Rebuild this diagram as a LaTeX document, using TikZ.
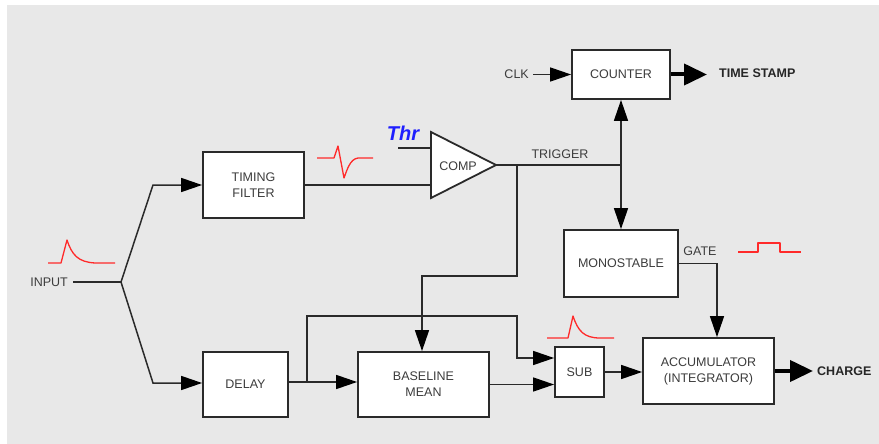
\documentclass[tikz,border=0pt]{standalone}
\usepackage{fontspec}
\setmainfont{Liberation Sans}
\usetikzlibrary{arrows.meta}
\definecolor{bg}{HTML}{E8E8E8}
\definecolor{ln}{HTML}{2A2A2A}
\definecolor{tx}{HTML}{3C3C3C}
\definecolor{pulse}{HTML}{FF2A2A}
\definecolor{thrblue}{HTML}{1F1FFF}
\begin{document}
\begin{tikzpicture}[x=1pt,y=-1pt,
  box/.style={draw=ln, line width=1.8pt, fill=white, inner sep=0pt, align=center, text=tx, font=\fontsize{12.5}{16}\selectfont},
  lbl/.style={text=tx, inner sep=0pt, font=\fontsize{12.5}{15}\selectfont},
  boldlbl/.style={text=black!85, inner sep=0pt, font=\fontsize{12.5}{15}\selectfont\bfseries},
  wire/.style={draw=ln, line width=1.5pt},
  arr/.style={wire, -{Triangle[length=21pt,width=14pt,color=black]}},
  fat/.style={draw=black, line width=4pt, -{Triangle[length=23pt,width=21pt]}},
  sig/.style={draw=pulse, line width=1.3pt, line join=round}]
\useasboundingbox (0,0) rectangle (879,444);
\fill[bg] (7,5) rectangle (879,444);

% boxes
\node[box, minimum width=101pt, minimum height=66pt] (tf) at (253.5,185) {TIMING\\FILTER};
\node[box, minimum width=85pt, minimum height=65pt] (delay) at (245.5,384.5) {DELAY};
\node[box, minimum width=131pt, minimum height=65pt] (bm) at (423.5,384.5) {BASELINE\\MEAN};
\node[box, minimum width=49pt, minimum height=50pt] (sub) at (579.5,372) {SUB};
\node[box, minimum width=131pt, minimum height=66pt] (acc) at (708.5,371) {ACCUMULATOR\\(INTEGRATOR)};
\node[box, minimum width=114pt, minimum height=67pt] (mono) at (621,263.5) {MONOSTABLE};
\node[box, minimum width=98pt, minimum height=49pt] (counter) at (621,74.5) {COUNTER};

% comparator
\draw[draw=ln, line width=1.8pt, fill=white] (431,132) -- (496,165) -- (431,198) -- cycle;
\node[lbl] (comp) at (458,166) {COMP};
\coordinate (c1) at (431,148);
\coordinate (c2) at (431,185);
\coordinate (cout) at (496,165);

% labels
\node[lbl, anchor=east] (input) at (68,282) {INPUT};
\node[lbl, anchor=east] (clk) at (529,74.5) {CLK};
\node[boldlbl, anchor=west] (ts) at (719,73) {TIME STAMP};
\node[lbl] (trig) at (560,154) {TRIGGER};
\node[lbl] (gate) at (700,251) {GATE};
\node[boldlbl, anchor=west] (charge) at (817,371) {CHARGE};
\node[inner sep=0pt, text=thrblue, font=\fontsize{20}{20}\selectfont\bfseries\itshape] (thr) at (403,133) {Thr};

% wires
\coordinate (split) at (121,282);
\coordinate (up) at (153,185);
\coordinate (dn) at (153,383);
\draw[wire] ([xshift=5pt]input.east) -- (split);
\draw[arr] (split) -- (up) -- (tf.west);
\draw[arr] (split) -- (dn) -- (dn -| delay.west);
\draw[wire] (tf.east) -- (c2);
\coordinate (thrs) at (398,148);
\draw[wire] (thrs) -- (c1);

\coordinate (trigj) at (621,165);
\coordinate (tap) at (517,165);
\draw[wire] (cout) -- (trigj);
\draw[arr] (trigj) -- (counter.south);
\draw[arr] (trigj) -- (mono.north);
\coordinate (bmturn) at (422,276);
\draw[arr] (tap) |- (bmturn) -- (bmturn |- bm.north);

\coordinate (dj) at (307,382);
\draw[wire] (delay.east |- dj) -- (dj);
\draw[arr] (dj) -- (dj -| bm.west);
\coordinate (loopl) at (307,316);
\coordinate (loopr) at (517,316);
\coordinate (subin) at (517,358);
\draw[arr] (dj) -- (loopl) -- (loopr) -- (subin) -- (subin -| sub.west);
\draw[arr] (bm.east) -- (bm.east -| sub.west);
\draw[arr] (sub.east) -- (sub.east -| acc.west);

\coordinate (gt) at (717,263.5);
\draw[arr] (mono.east) -- (gt) -- (gt |- acc.north);

\coordinate (chg) at (813,371);
\draw[fat] (acc.east) -- (chg);
\coordinate (tse) at (707,74.5);
\draw[fat] (counter.east) -- (tse);
\draw[arr] ([xshift=4pt]clk.east) -- (counter.west);

% signal sketches
\draw[sig] (48,263) -- (61,263) -- (67,240) .. controls (72,255) and (78,262) .. (95,263) -- (115,263);
\draw[sig] (317,158) -- (334,158) -- (338,146) -- (344,178) .. controls (347,170) and (350,159) .. (358,158) -- (373,158);
\draw[sig] (547,338) -- (568,338) -- (573,316) .. controls (578,331) and (584,338) .. (600,338) -- (614,338);
\draw[sig] (738,252) -- (758,252) -- (758,243) -- (780,243) -- (780,252) -- (801,252);
\end{tikzpicture}
\end{document}
